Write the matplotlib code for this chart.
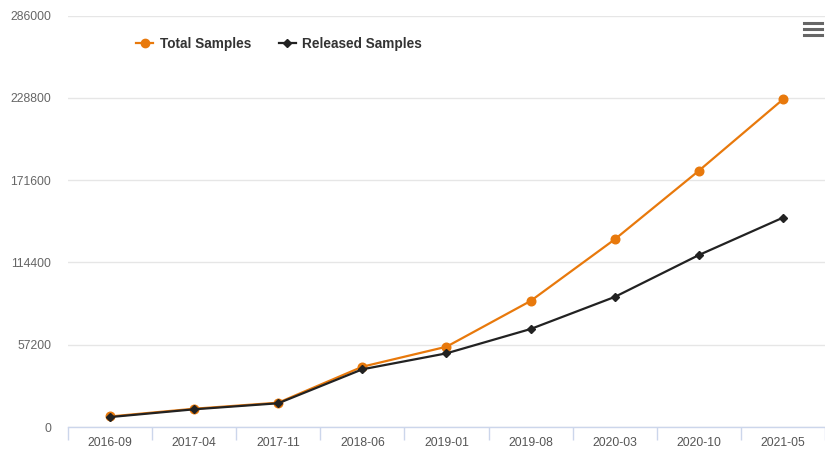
import numpy as np
import matplotlib.pyplot as plt
from matplotlib.lines import Line2D

plt.rcParams["font.family"] = ["Liberation Sans", "DejaVu Sans"]

months = ["2016-09", "2017-04", "2017-11", "2018-06", "2019-01",
          "2019-08", "2020-03", "2020-10", "2021-05"]
total_samples = [7300, 12700, 16900, 41900, 55800, 87600, 130400, 178100, 227700]
released_samples = [6900, 12300, 16500, 40100, 51200, 68100, 90400, 119500, 145500]
y_ticks = [0, 57200, 114400, 171600, 228800, 286000]

orange = "#e8790c"
dark = "#222222"

fig = plt.figure(figsize=(8.25, 4.5), dpi=100)
ax = fig.add_axes([68 / 825, 23 / 450, 757 / 825, 411.5 / 450])

x = np.arange(len(months))
ax.plot(x, total_samples, color=orange, linewidth=1.6, marker="o",
        markersize=6.2, zorder=3)
ax.plot(x, released_samples, color=dark, linewidth=1.6, marker="D",
        markersize=4.2, zorder=4)

ax.set_xlim(-0.5, len(months) - 0.5)
ax.set_ylim(0, 286000)
ax.set_yticks(y_ticks)
ax.set_yticklabels([str(v) for v in y_ticks])
ax.set_xticks(x)
ax.set_xticklabels(months)
ax.set_xticks(np.arange(-0.5, len(months)), minor=True)

ax.tick_params(axis="y", length=0, labelsize=8.8, labelcolor="#666666", pad=12)
ax.tick_params(axis="x", which="major", length=0, labelsize=8.8,
               labelcolor="#555555", pad=7)
ax.tick_params(axis="x", which="minor", length=9, width=1, color="#ccd6eb")

ax.grid(axis="y", color="#e6e6e6", linewidth=1)
ax.set_axisbelow(True)
for s in ["top", "right", "left"]:
    ax.spines[s].set_visible(False)
ax.spines["bottom"].set_color("#ccd6eb")
ax.spines["bottom"].set_linewidth(1)

handles = [
    Line2D([], [], color=orange, linewidth=1.6, marker="o", markersize=6),
    Line2D([], [], color=dark, linewidth=1.6, marker="D", markersize=4),
]
ax.legend(handles, ["Total Samples", "Released Samples"], ncol=2,
          frameon=False, loc="center left",
          bbox_to_anchor=(124 / 825, 406 / 450), bbox_transform=fig.transFigure,
          prop={"weight": "bold", "size": 9.8}, labelcolor="#333333",
          handlelength=1.25, handletextpad=0.5, columnspacing=2.0)

# menu icon
for yy in [23, 29, 35]:
    fig.add_artist(Line2D([804 / 825, 822 / 825], [1 - yy / 450, 1 - yy / 450],
                          color="#666666", linewidth=2.2,
                          transform=fig.transFigure))

fig.savefig("out.png", dpi=100)
